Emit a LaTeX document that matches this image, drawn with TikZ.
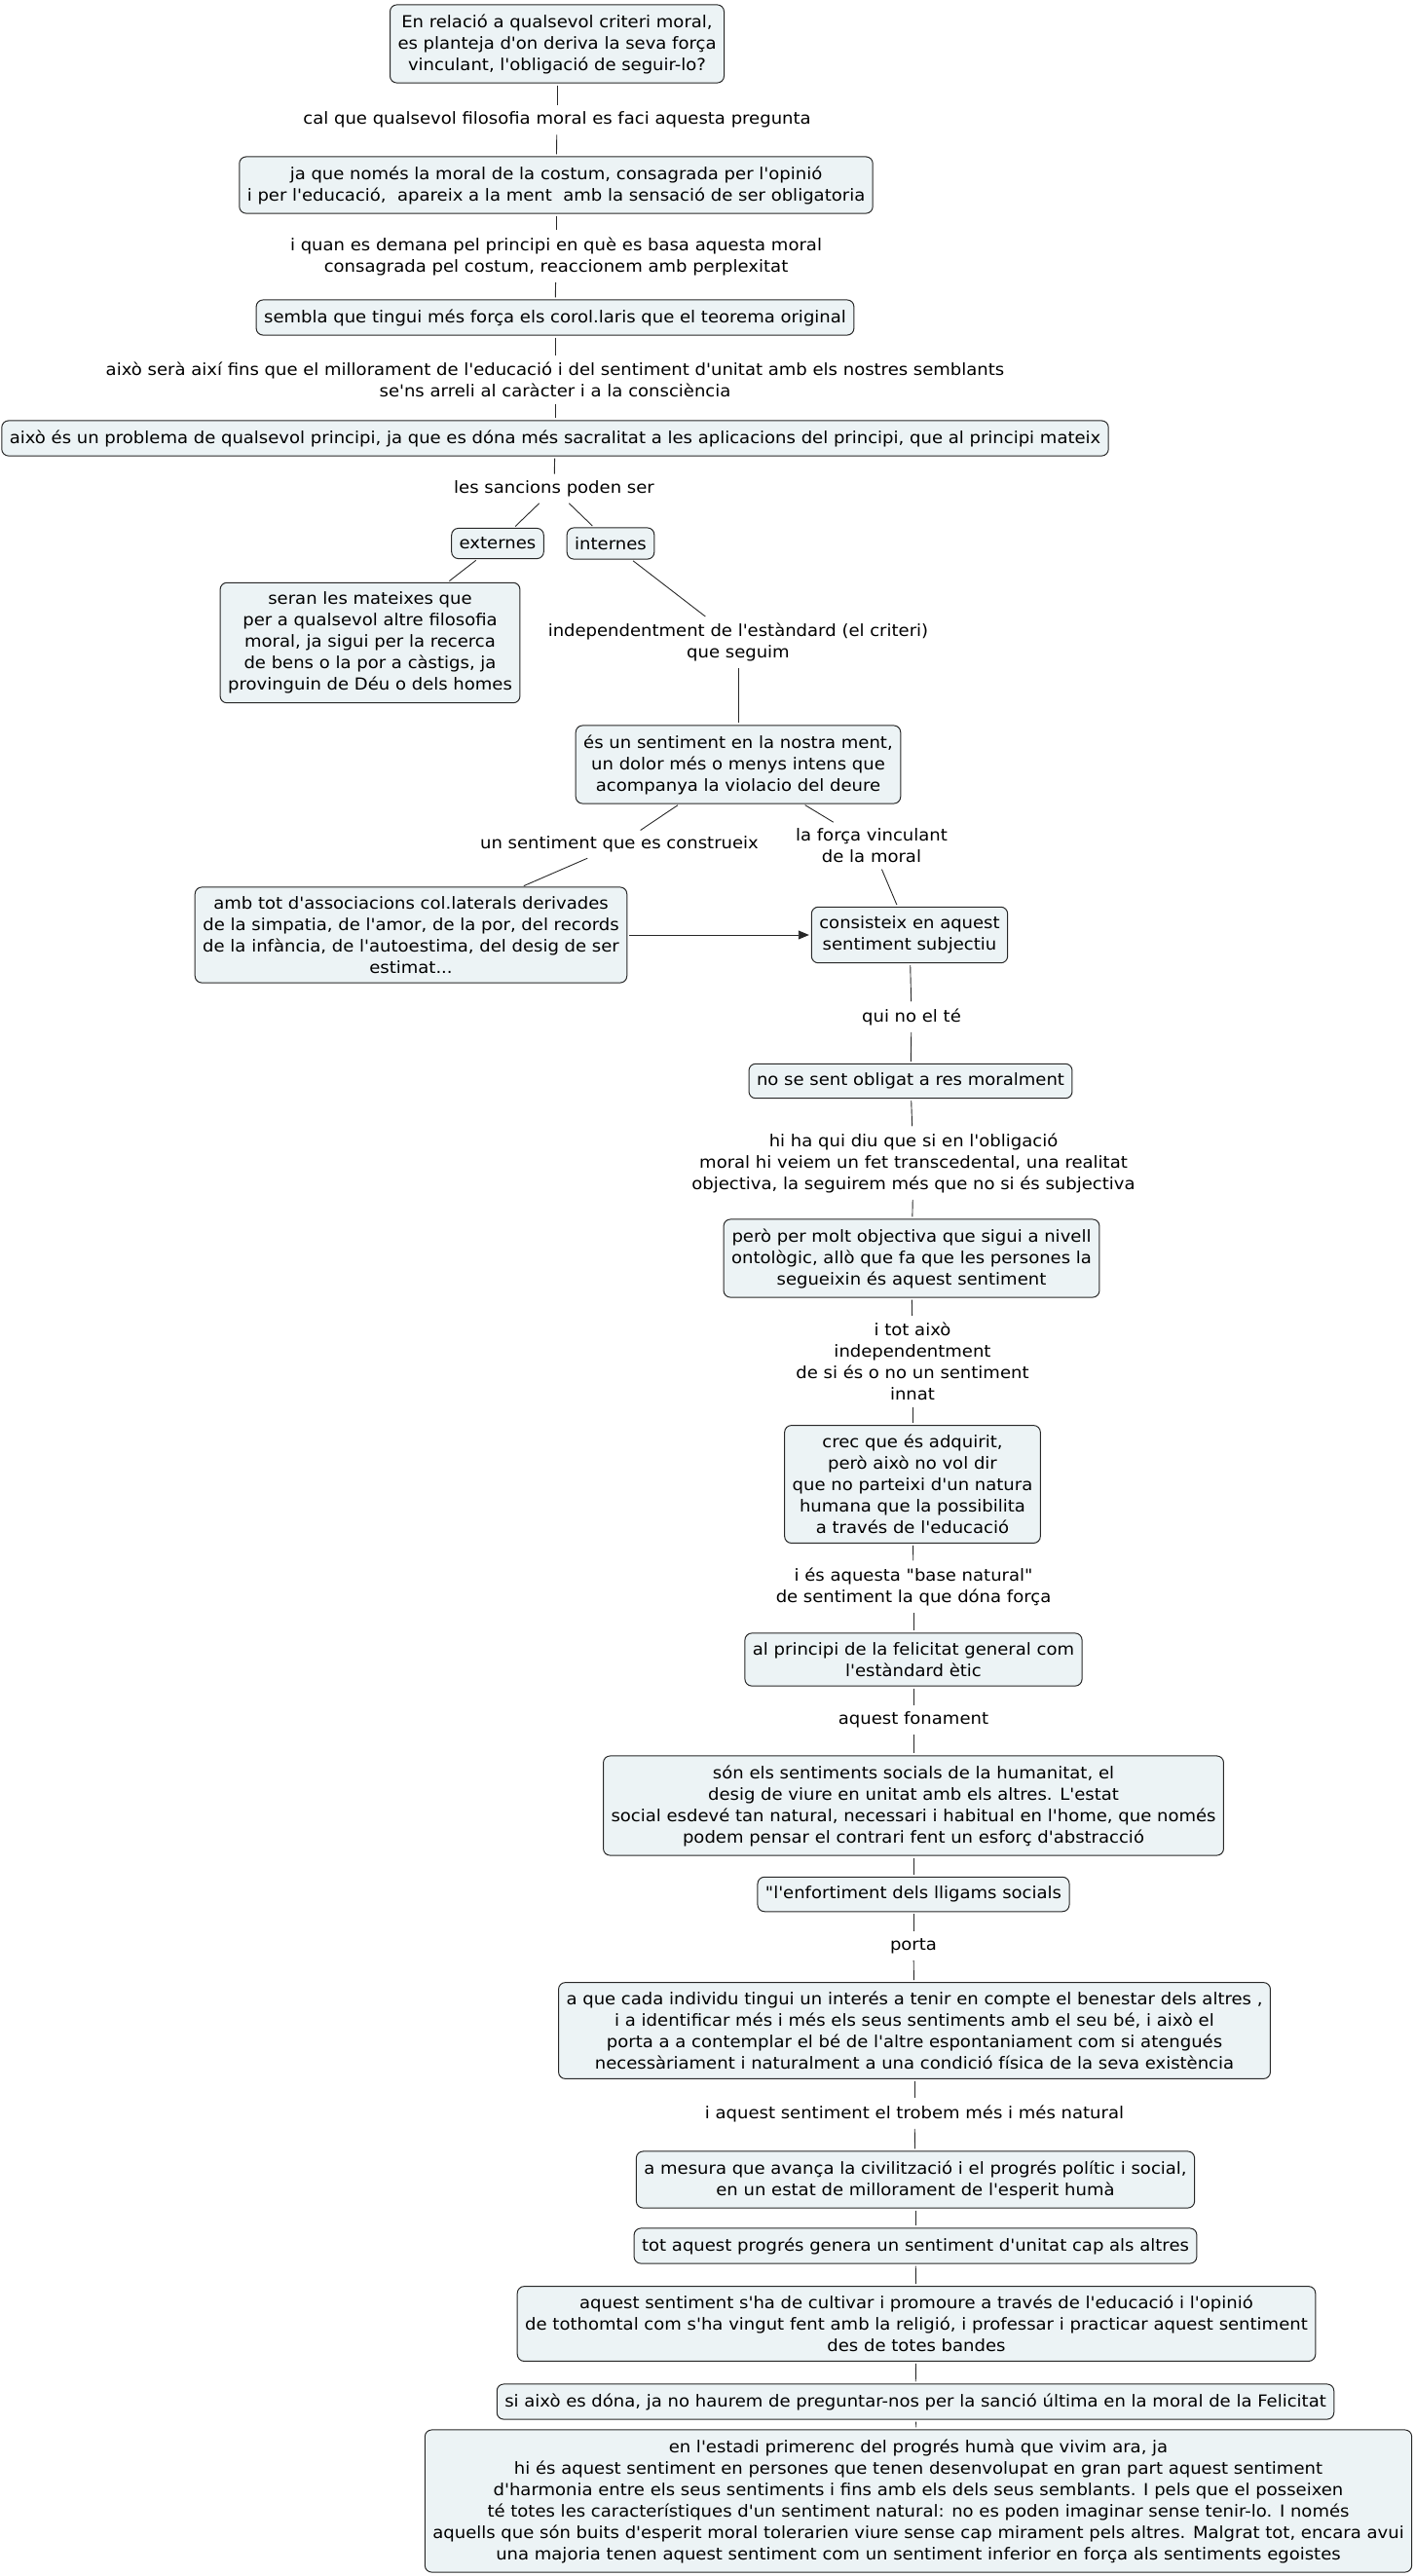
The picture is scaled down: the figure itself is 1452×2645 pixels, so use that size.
\documentclass[tikz,border=0pt]{standalone}
\usepackage{fontspec}
\newfontfamily\mapfont{DejaVu Sans}[FakeStretch=1.06]
\usetikzlibrary{arrows.meta}
\definecolor{boxfill}{RGB}{236,243,245}
\definecolor{edge}{RGB}{40,40,40}

\begin{document}
\begin{tikzpicture}[x=1pt,y=-1pt,
  box/.style={draw=edge,fill=boxfill,rounded corners=7pt,line width=1pt,align=center,inner xsep=8pt,inner ysep=9.5pt,font=\mapfont\fontsize{17pt}{22pt}\selectfont},
  lbl/.style={align=center,inner sep=5pt,font=\mapfont\fontsize{17pt}{22pt}\selectfont},
  conn/.style={draw=edge,line width=0.9pt,shorten <=2pt,shorten >=2pt}]
\useasboundingbox (0,0) rectangle (1452,2645);
% boxes and linking phrases, top to bottom
\node[box] (n1) at (572,45) {En relació a qualsevol criteri moral,\\es planteja d'on deriva la seva força\\vinculant, l'obligació de seguir-lo?};
\node[lbl] (l1) at (572,123) {cal que qualsevol filosofia moral es faci aquesta pregunta};
\node[box] (n2) at (571,190) {ja que només la moral de la costum, consagrada per l'opinió\\i per l'educació,\ \ apareix a la ment\ \ amb la sensació de ser obligatoria};
\node[lbl] (l2) at (571,263) {i quan es demana pel principi en què es basa aquesta moral\\consagrada pel costum, reaccionem amb perplexitat};
\node[box] (n3) at (570,326) {sembla que tingui més força els corol.laris que el teorema original};
\node[lbl] (l3) at (570,390) {això serà així fins que el millorament de l'educació i del sentiment d'unitat amb els nostres semblants\\se'ns arreli al caràcter i a la consciència};
\node[box] (n4) at (570,450) {això és un problema de qualsevol principi, ja que es dóna més sacralitat a les aplicacions del principi, que al principi mateix};
\node[lbl] (l4) at (569,502) {les sancions poden ser};
\node[box] (ext) at (511,558) {externes};
\node[box] (int) at (627,558) {internes};
\node[box] (n5) at (380,660) {seran les mateixes que\\per a qualsevol altre filosofia\\moral, ja sigui per la recerca\\de bens o la por a càstigs, ja\\provinguin de Déu o dels homes};
\node[lbl] (l5) at (758,659) {independentment de l'estàndard (el criteri)\\que seguim};
\node[box] (n6) at (758,785) {és un sentiment en la nostra ment,\\un dolor més o menys intens que\\acompanya la violacio del deure};
\node[lbl] (l6a) at (636,867) {un sentiment que es construeix};
\node[lbl] (l6b) at (895,868) {la força vinculant\\de la moral};
\node[box] (n7) at (422,960) {amb tot d'associacions col.laterals derivades\\de la simpatia, de l'amor, de la por, del records\\de la infància, de l'autoestima, del desig de ser\\estimat...};
\node[box] (n8) at (934,960) {consisteix en aquest\\sentiment subjectiu};
\node[lbl] (l8) at (936,1044) {qui no el té};
\node[box] (n9) at (935,1110) {no se sent obligat a res moralment};
\node[lbl] (l9) at (938,1194) {hi ha qui diu que si en l'obligació\\moral hi veiem un fet transcedental, una realitat\\objectiva, la seguirem més que no si és subjectiva};
\node[box] (n10) at (936,1292) {però per molt objectiva que sigui a nivell\\ontològic, allò que fa que les persones la\\segueixin és aquest sentiment};
\node[lbl] (l10) at (937,1398) {i tot això\\independentment\\de si és o no un sentiment\\innat};
\node[box] (n11) at (937,1524) {crec que és adquirit,\\però això no vol dir\\que no parteixi d'un natura\\humana que la possibilita\\a través de l'educació};
\node[lbl] (l11) at (938,1629) {i és aquesta "base natural"\\de sentiment la que dóna força};
\node[box] (n12) at (938,1704) {al principi de la felicitat general com\\l'estàndard ètic};
\node[lbl] (l12) at (938,1766) {aquest fonament};
\node[box] (n13) at (938,1854) {són els sentiments socials de la humanitat, el\\desig de viure en unitat amb els altres. L'estat\\social esdevé tan natural, necessari i habitual en l'home, que només\\podem pensar el contrari fent un esforç d'abstracció};
\node[box] (n14) at (938,1945) {"l'enfortiment dels lligams socials};
\node[lbl] (l14) at (938,1998) {porta};
\node[box] (n15) at (939,2085) {a que cada individu tingui un interés a tenir en compte el benestar dels altres ,\\i a identificar més i més els seus sentiments amb el seu bé, i això el\\porta a a contemplar el bé de l'altre espontaniament com si atengués\\necessàriament i naturalment a una condició física de la seva existència};
\node[lbl] (l15) at (939,2170) {i aquest sentiment el trobem més i més natural};
\node[box] (n16) at (940,2238) {a mesura que avança la civilització i el progrés polític i social,\\en un estat de millorament de l'esperit humà};
\node[box] (n17) at (940,2306) {tot aquest progrés genera un sentiment d'unitat cap als altres};
\node[box] (n18) at (941,2386) {aquest sentiment s'ha de cultivar i promoure a través de l'educació i l'opinió\\de tothomtal com s'ha vingut fent amb la religió, i professar i practicar aquest sentiment\\des de totes bandes};
\node[box] (n19) at (940,2466) {si això es dóna, ja no haurem de preguntar-nos per la sanció última en la moral de la Felicitat};
\node[box] (n20) at (943,2568) {en l'estadi primerenc del progrés humà que vivim ara, ja\\hi és aquest sentiment en persones que tenen desenvolupat en gran part aquest sentiment\\d'harmonia entre els seus sentiments i fins amb els dels seus semblants. I pels que el posseixen\\té totes les característiques d'un sentiment natural: no es poden imaginar sense tenir-lo. I només\\aquells que són buits d'esperit moral tolerarien viure sense cap mirament pels altres. Malgrat tot, encara avui\\una majoria tenen aquest sentiment com un sentiment inferior en força als sentiments egoistes};
% links
\foreach \a/\b in {n1/l1,l1/n2,n2/l2,l2/n3,n3/l3,l3/n4,n4/l4,l4/ext,l4/int,ext/n5,int/l5,l5/n6,n6/l6a,l6a/n7,n6/l6b,l6b/n8,n8/l8,l8/n9,n9/l9,l9/n10,n10/l10,l10/n11,n11/l11,l11/n12,n12/l12,l12/n13,n13/n14,n14/l14,l14/n15,n15/l15,l15/n16,n16/n17,n17/n18,n18/n19,n19/n20}{\draw[conn] (\a)--(\b);}
\draw[conn,-{Triangle[length=11pt,width=9pt]}] (n7)--(n8);
\end{tikzpicture}
\end{document}
